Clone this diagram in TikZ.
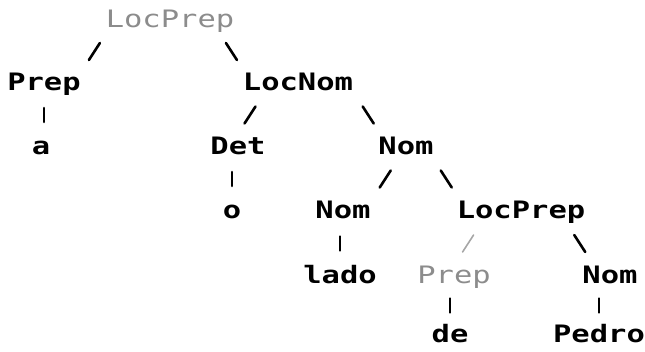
\documentclass[tikz,border=0pt]{standalone}
\usepackage{fontspec}
\newfontfamily\dmfont[FakeStretch=1.27]{DejaVu Sans Mono}
\usetikzlibrary{calc}
\tikzset{
  lbl/.style={anchor=base, inner sep=0pt, font=\dmfont\bfseries\fontsize{24}{24}\selectfont},
  faint/.style={anchor=base, inner sep=0pt, font=\dmfont\fontsize{24}{24}\selectfont, text=black!45},
  link/.style={line width=2.6pt, line cap=round},
  faintlink/.style={line width=1.6pt, line cap=round, black!35},
  % short "/" stroke, x at fraction #1 along the edge, y near the middle
  lslash/.style={to path={let \p1=($(\tikztostart)!#1!(\tikztotarget)$),
      \p2=($(\tikztostart)!0.5!(\tikztotarget)$) in
      (\x1,\y2) ++(-5.5,0.5) -- ++(11,-17)}},
  % short "\" stroke
  rslash/.style={to path={let \p1=($(\tikztostart)!#1!(\tikztotarget)$),
      \p2=($(\tikztostart)!0.5!(\tikztotarget)$) in
      (\x1,\y2) ++(-5.5,-16.5) -- ++(11,17)}},
  % short "|" stroke
  vbar/.style={to path={let \p1=($(\tikztostart)!#1!(\tikztotarget)$),
      \p2=($(\tikztostart)!0.5!(\tikztotarget)$) in
      (\x1,\y2) ++(0,-15) -- ++(0,14)}},
}
\begin{document}
\begin{tikzpicture}[x={(1pt,0)}, y={(0,-1pt)}]
\useasboundingbox (0,0) rectangle (645,352);

% nodes of the tree
\node[faint] (r)     at (170,28)  {LocPrep};
\node[lbl]   (p1)    at (44,91)   {Prep};
\node[lbl]   (ln)    at (298,91)  {LocNom};
\node[lbl]   (a)     at (41,155)  {a};
\node[lbl]   (det)   at (238,155) {Det};
\node[lbl]   (n1)    at (406,155) {Nom};
\node[lbl]   (o)     at (232,219) {o};
\node[lbl]   (n2)    at (343,219) {Nom};
\node[lbl]   (lp)    at (521,219) {LocPrep};
\node[lbl]   (lado)  at (340,284) {lado};
\node[faint] (p2)    at (454,284) {Prep};
\node[lbl]   (n3)    at (610,284) {Nom};
\node[lbl]   (de)    at (450,343) {de};
\node[lbl]   (pedro) at (599,343) {Pedro};

% branches
\draw[link, lslash=0.6]  (r.base) to (p1.base);
\draw[link, rslash=0.48] (r.base) to (ln.base);
\draw[link, vbar=0]      (p1.base) to (a.base);
\draw[link, lslash=0.8]  (ln.base) to (det.base);
\draw[link, rslash=0.65] (ln.base) to (n1.base);
\draw[link, vbar=1]      (det.base) to (o.base);
\draw[link, lslash=0.33] (n1.base) to (n2.base);
\draw[link, rslash=0.35] (n1.base) to (lp.base);
\draw[link, vbar=1]      (n2.base) to (lado.base);
\draw[faintlink, lslash=0.79] (lp.base) to (p2.base);
\draw[link, rslash=0.66] (lp.base) to (n3.base);
\draw[link, vbar=1]      (p2.base) to (de.base);
\draw[link, vbar=1]      (n3.base) to (pedro.base);
\end{tikzpicture}
\end{document}
